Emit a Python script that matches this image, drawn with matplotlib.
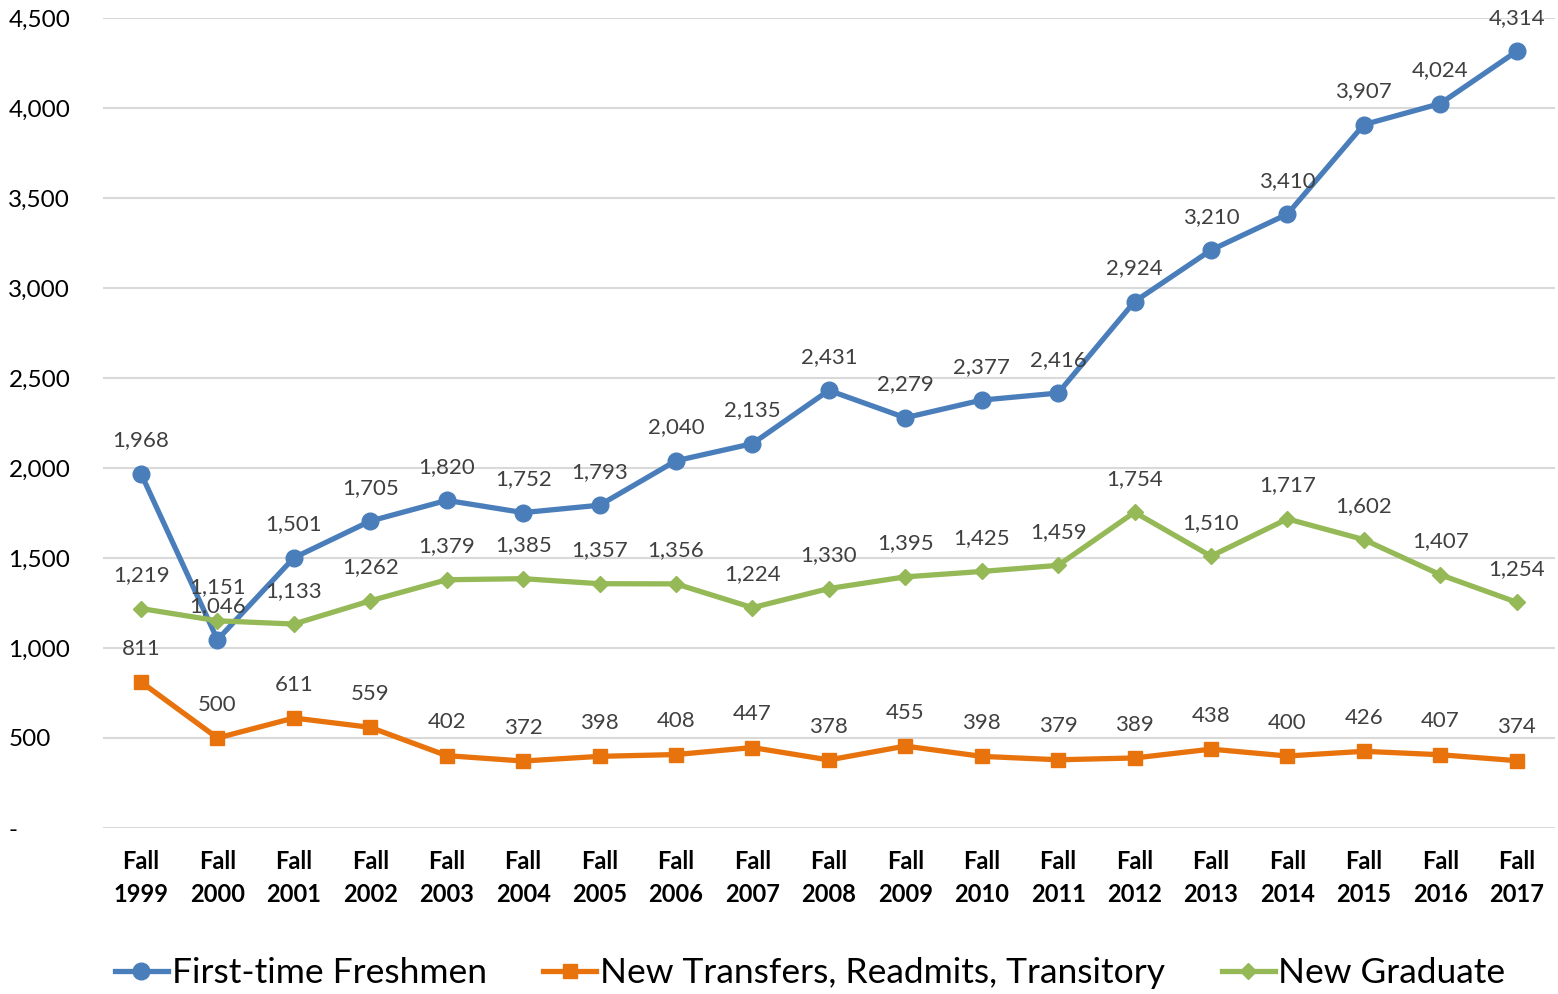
import matplotlib.pyplot as plt

plt.rcParams['font.family'] = ['Lato', 'DejaVu Sans']

# Fall terms and new enrollment counts
years = [str(y) for y in range(1999, 2018)]
freshmen = [1968, 1046, 1501, 1705, 1820, 1752, 1793, 2040, 2135, 2431,
            2279, 2377, 2416, 2924, 3210, 3410, 3907, 4024, 4314]
transfers = [811, 500, 611, 559, 402, 372, 398, 408, 447, 378,
             455, 398, 379, 389, 438, 400, 426, 407, 374]
graduate = [1219, 1151, 1133, 1262, 1379, 1385, 1357, 1356, 1224, 1330,
            1395, 1425, 1459, 1754, 1510, 1717, 1602, 1407, 1254]
yticks = [0, 500, 1000, 1500, 2000, 2500, 3000, 3500, 4000, 4500]

series = [("First-time Freshmen", freshmen, "#4A7EBB", "o", 12),
          ("New Transfers, Readmits, Transitory", transfers, "#E8720C", "s", 10),
          ("New Graduate", graduate, "#95B956", "D", 8)]

fig = plt.figure(figsize=(15.58, 9.94), dpi=100)
ax = fig.add_axes([0.066, 0.167, 0.932, 0.815])

x = list(range(len(years)))
for name, vals, color, mk, ms in series:
    ax.plot(x, vals, color=color, lw=3.8, marker=mk, markersize=ms,
            markerfacecolor=color, markeredgecolor=color, label=name, zorder=3)
    for xi, v in zip(x, vals):
        ax.annotate(f"{v:,}", (xi, v), xytext=(0, 24), textcoords="offset points",
                    ha="center", va="center", fontsize=16, color="#404040", zorder=4)

ax.set_xlim(-0.5, 18.5)
ax.set_ylim(0, 4500)
ax.set_yticks(yticks)
ax.set_yticklabels(["-" if t == 0 else f"{t:,}" for t in yticks])
ax.set_xticks(x)
ax.set_xticklabels([f"Fall\n{y}" for y in years], fontsize=17, fontweight="bold",
                   linespacing=1.5)
ax.tick_params(axis="y", length=0, pad=68, labelsize=17.5)
for lab in ax.get_yticklabels():
    lab.set_horizontalalignment("left")
ax.tick_params(axis="x", length=0, pad=16)
ax.grid(axis="y", color="#D9D9D9", lw=1.5)
ax.set_axisbelow(True)
for s in ax.spines.values():
    s.set_visible(False)

fig.legend(loc="center", bbox_to_anchor=(0.52, 0.021), ncol=3, frameon=False,
           fontsize=25.5, handlelength=1.5, handletextpad=0.1, columnspacing=1.6)

fig.savefig("out.png", dpi=100)
